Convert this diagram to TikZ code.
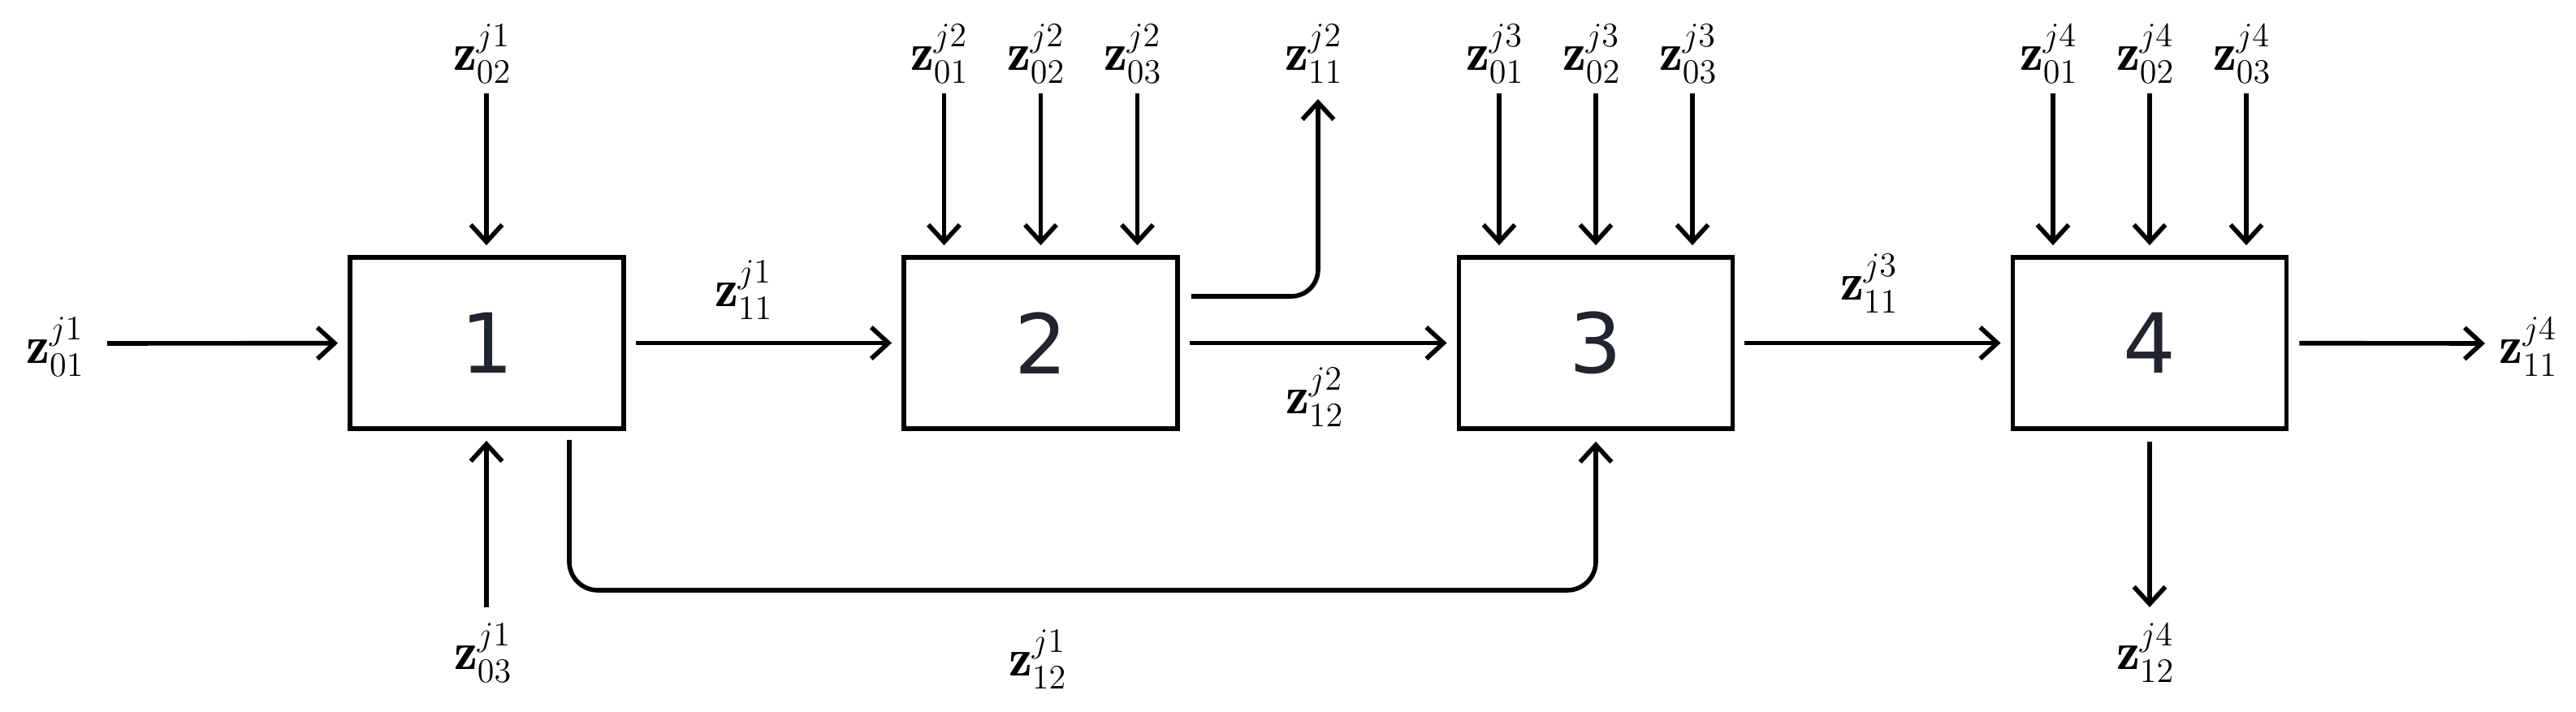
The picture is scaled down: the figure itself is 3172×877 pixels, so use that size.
\documentclass[tikz,border=0pt]{standalone}
\usepackage{amsmath}
\usepackage{fontspec}
\newfontfamily\boxfont{DejaVu Sans}
\usetikzlibrary{arrows.meta,calc}
\definecolor{digitcol}{RGB}{32,36,46}
\begin{document}
\begin{tikzpicture}[x=0.01cm,y=-0.01cm,
  blk/.style={draw, line width=1.6pt, minimum width=3.37cm, minimum height=2.11cm, inner sep=0pt,
    font=\boxfont\fontsize{29}{34}\selectfont, text=digitcol},
  lbl/.style={inner sep=0pt, font=\fontsize{18.5}{22}\selectfont},
  arr/.style={line width=1.6pt, -{Straight Barb[length=6pt,width=11pt]}},
  gap/.style={shorten >=0.12cm},
  gapb/.style={shorten <=0.12cm, shorten >=0.12cm}]
\useasboundingbox (0,0) rectangle (3172,877);
\fill[white] (0,0) rectangle (3172,877);

% blocks
\node[blk] (b1) at (599.5,422.5) {1};
\node[blk] (b2) at (1281.5,422.5) {2};
\node[blk] (b3) at (1965,422.5) {3};
\node[blk] (b4) at (2647,422.5) {4};

% block 1
\coordinate (in1) at (132,423);
\draw[arr,gap] (in1) -- (b1);
\node[lbl, anchor=east] (l01) at (105,427) {$\mathbf{z}^{j1}_{01}$};
\coordinate (t1) at (599,115);
\draw[arr,gap] (t1) -- (t1 |- b1.north);
\node[lbl, anchor=south] (l02) at (594,103) {$\mathbf{z}^{j1}_{02}$};
\coordinate (u1) at (599,748);
\draw[arr,gap] (u1) -- (u1 |- b1.south);
\node[lbl, anchor=north] (l03) at (595,767) {$\mathbf{z}^{j1}_{03}$};

% block 1 -> block 2
\draw[arr,gapb] (b1) -- (b2);
\node[lbl] (l11a) at (916,357) {$\mathbf{z}^{j1}_{11}$};

% feedback block 1 -> block 3
\coordinate (f1) at (701,542);
\coordinate (fm) at (1300,727);
\draw[arr, rounded corners=0.35cm, shorten >=0.13cm] (f1) |- (fm) -| (b3.south);
\node[lbl] (l12a) at (1278,812) {$\mathbf{z}^{j1}_{12}$};

% block 2 inputs
\coordinate (t2a) at (1162.5,115);
\coordinate (t2b) at (1281.5,115);
\coordinate (t2c) at (1400.5,115);
\draw[arr,gap] (t2a) -- (t2a |- b2.north);
\draw[arr,gap] (t2b) -- (t2b |- b2.north);
\draw[arr,gap] (t2c) -- (t2c |- b2.north);
\node[lbl, anchor=south] (l2a) at (1157,103) {$\mathbf{z}^{j2}_{01}$};
\node[lbl, anchor=south] (l2b) at (1276,103) {$\mathbf{z}^{j2}_{02}$};
\node[lbl, anchor=south] (l2c) at (1395,103) {$\mathbf{z}^{j2}_{03}$};

% block 2 branch output
\coordinate (br) at ($(b2.east)+(14,-57.5)$);
\coordinate (o2) at (1623,122);
\draw[arr, rounded corners=0.33cm] (br) -| (o2);
\node[lbl, anchor=south] (l11b) at (1618,103) {$\mathbf{z}^{j2}_{11}$};

% block 2 -> block 3
\draw[arr,gapb] (b2) -- (b3);
\node[lbl] (l12b) at (1619,489) {$\mathbf{z}^{j2}_{12}$};

% block 3 inputs
\coordinate (t3a) at (1846,115);
\coordinate (t3b) at (1965,115);
\coordinate (t3c) at (2084,115);
\draw[arr,gap] (t3a) -- (t3a |- b3.north);
\draw[arr,gap] (t3b) -- (t3b |- b3.north);
\draw[arr,gap] (t3c) -- (t3c |- b3.north);
\node[lbl, anchor=south] (l3a) at (1841,103) {$\mathbf{z}^{j3}_{01}$};
\node[lbl, anchor=south] (l3b) at (1960,103) {$\mathbf{z}^{j3}_{02}$};
\node[lbl, anchor=south] (l3c) at (2079,103) {$\mathbf{z}^{j3}_{03}$};

% block 3 -> block 4
\draw[arr,gapb] (b3) -- (b4);
\node[lbl] (l11c) at (2302,349) {$\mathbf{z}^{j3}_{11}$};

% block 4 inputs
\coordinate (t4a) at (2528,115);
\coordinate (t4b) at (2647,115);
\coordinate (t4c) at (2766,115);
\draw[arr,gap] (t4a) -- (t4a |- b4.north);
\draw[arr,gap] (t4b) -- (t4b |- b4.north);
\draw[arr,gap] (t4c) -- (t4c |- b4.north);
\node[lbl, anchor=south] (l4a) at (2523,103) {$\mathbf{z}^{j4}_{01}$};
\node[lbl, anchor=south] (l4b) at (2642,103) {$\mathbf{z}^{j4}_{02}$};
\node[lbl, anchor=south] (l4c) at (2761,103) {$\mathbf{z}^{j4}_{03}$};

% block 4 outputs
\coordinate (o4) at (3060,423);
\draw[arr, shorten <=0.13cm] (b4) -- (o4);
\node[lbl, anchor=west] (l11d) at (3077,427) {$\mathbf{z}^{j4}_{11}$};
\coordinate (d4) at (2647,748);
\draw[arr, shorten <=0.13cm] (b4) -- (d4);
\node[lbl, anchor=north] (l12d) at (2642,767) {$\mathbf{z}^{j4}_{12}$};
\end{tikzpicture}
\end{document}
